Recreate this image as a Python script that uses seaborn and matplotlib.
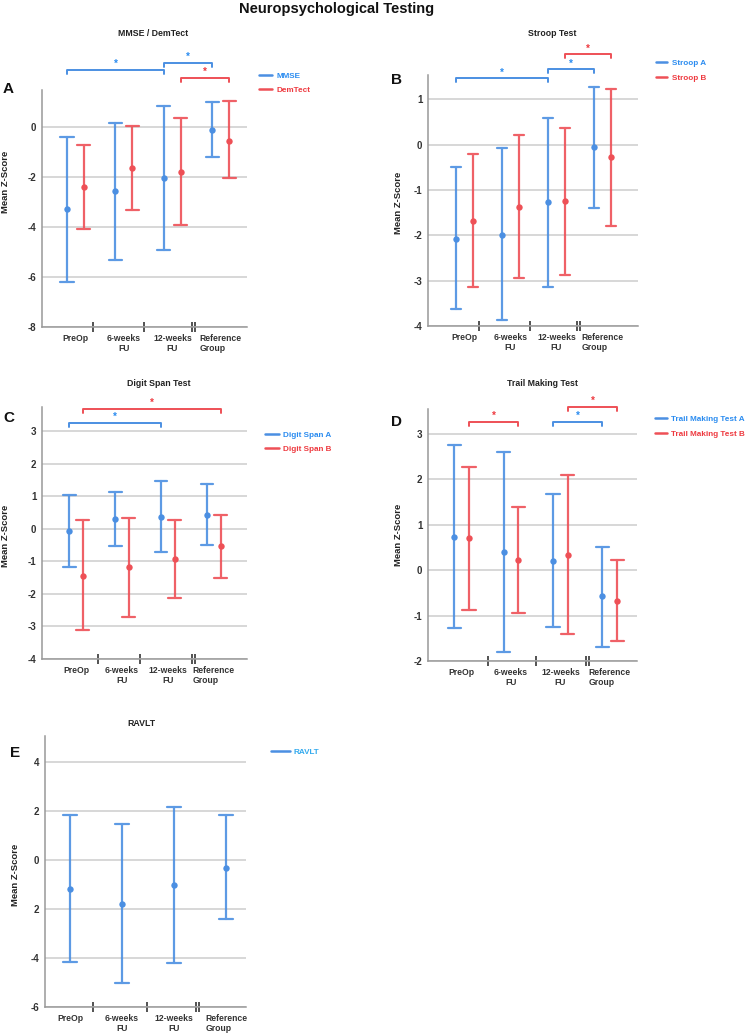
import pandas as pd
import matplotlib.pyplot as plt
from matplotlib.lines import Line2D
import seaborn as sns

W, H = 749, 1035

groups = ["PreOp", "6-weeks\nFU", "12-weeks\nFU", "Reference\nGroup"]

# A: MMSE / DemTect (mean, lower, upper)
mmse_mean = [-3.29, -2.57, -2.04, -0.13]
mmse_lo = [-6.20, -5.31, -4.93, -1.20]
mmse_hi = [-0.40, 0.16, 0.85, 1.00]
demtect_mean = [-2.40, -1.64, -1.79, -0.56]
demtect_lo = [-4.07, -3.31, -3.91, -2.05]
demtect_hi = [-0.73, 0.03, 0.36, 1.03]

# B: Stroop
stroop_a_mean = [-2.08, -1.99, -1.27, -0.04]
stroop_a_lo = [-3.63, -3.87, -3.13, -1.40]
stroop_a_hi = [-0.50, -0.07, 0.60, 1.28]
stroop_b_mean = [-1.68, -1.37, -1.25, -0.28]
stroop_b_lo = [-3.15, -2.93, -2.88, -1.79]
stroop_b_hi = [-0.21, 0.21, 0.38, 1.24]

# C: Digit span
digit_a_mean = [-0.07, 0.32, 0.38, 0.43]
digit_a_lo = [-1.17, -0.52, -0.72, -0.49]
digit_a_hi = [1.03, 1.14, 1.48, 1.39]
digit_b_mean = [-1.44, -1.18, -0.92, -0.51]
digit_b_lo = [-3.10, -2.70, -2.12, -1.51]
digit_b_hi = [0.26, 0.35, 0.28, 0.43]

# D: Trail making
tmt_a_mean = [0.74, 0.40, 0.21, -0.57]
tmt_a_lo = [-1.28, -1.81, -1.26, -1.70]
tmt_a_hi = [2.75, 2.60, 1.68, 0.52]
tmt_b_mean = [0.70, 0.23, 0.34, -0.67]
tmt_b_lo = [-0.88, -0.94, -1.41, -1.55]
tmt_b_hi = [2.28, 1.40, 2.10, 0.22]

# E: RAVLT
ravlt_mean = [-1.17, -1.80, -1.02, -0.31]
ravlt_lo = [-4.15, -5.02, -4.19, -2.41]
ravlt_hi = [1.82, 1.47, 2.16, 1.85]

# significance brackets: (series index, from group, to group, height)
brackets_a = [(0, 0, 2, 2.28), (0, 2, 3, 2.56), (1, 2, 3, 1.96)]
brackets_b = [(0, 0, 2, 1.47), (0, 2, 3, 1.67), (1, 2, 3, 2.00)]
brackets_c = [(0, 0, 2, 3.26), (1, 0, 3, 3.69)]
brackets_d = [(1, 0, 1, 3.27), (0, 2, 3, 3.27), (1, 2, 3, 3.60)]

BLUE = "#4b8fe2"
RED = "#ee5056"
BLUE_TXT = "#2b8cf0"
RED_TXT = "#ee3a40"

sns.set_style("white")
plt.rcParams["font.family"] = ["Liberation Sans", "DejaVu Sans"]
plt.rcParams["font.weight"] = "bold"
plt.rcParams["axes.unicode_minus"] = False


def long_frame(series):
    rows = []
    for name, (mean, lo, hi) in series.items():
        for g, m, l, h in zip(groups, mean, lo, hi):
            for v in (l, m, h):
                rows.append({"group": g, "test": name, "z": v})
    return pd.DataFrame(rows)


def px_axes(fig, l, t, r, b):
    return fig.add_axes([l / W, 1 - b / H, (r - l) / W, (b - t) / H])


def draw_panel(fig, box, series, colors, txt_colors, ylim, yticks, xlim,
               dodge, capsize, seps, brackets, title, title_xy, letter, letter_xy,
               ylab_xy, leg_xy, leg_handlelen, leg_spacing, ytick_labels=None):
    l, t, r, b = box
    ax = px_axes(fig, l, t, r, b)
    df = long_frame(series)
    names = list(series.keys())
    hue_kw = dict(hue="test", hue_order=names, palette=colors, dodge=dodge) if len(names) > 1 else dict(color=colors[0])
    sns.pointplot(data=df, x="group", y="z", order=groups, estimator="median",
                  errorbar=lambda v: (v.min(), v.max()), capsize=capsize,
                  linestyle="none", marker="o", markersize=4.6, markeredgewidth=0,
                  err_kws={"linewidth": 1.6, "alpha": 0.9}, legend=False, ax=ax, **hue_kw)
    ax.set_xlim(*xlim)
    ax.set_ylim(*ylim)
    ax.set_yticks(yticks)
    if ytick_labels is not None:
        ax.set_yticklabels(ytick_labels)
    ax.set_xlabel("")
    ax.set_ylabel("")
    ax.yaxis.grid(True, color="#cdcdcd", linewidth=1.1)
    ax.set_axisbelow(True)
    for s in ["top", "right"]:
        ax.spines[s].set_visible(False)
    for s in ["left", "bottom"]:
        ax.spines[s].set_color("#999999")
        ax.spines[s].set_linewidth(1.1)
    ax.tick_params(axis="y", length=0, pad=4, labelsize=7, labelcolor="#333333")
    ax.tick_params(axis="x", which="major", bottom=True, length=0, pad=5, labelsize=6.2,
                   labelcolor="#333333")
    ax.set_xticks(seps + [seps[-1] + 0.06], minor=True)
    ax.tick_params(axis="x", which="minor", bottom=True, direction="inout", length=7,
                   width=1.3, color="#444444")
    for lab in ax.get_xticklabels():
        lab.set_fontweight("bold")
        if lab.get_text().startswith("Reference"):
            lab.set_multialignment("left")
    for lab in ax.get_yticklabels():
        lab.set_fontweight("bold")

    # brackets with stars
    ppu = (b - t) / (ylim[1] - ylim[0])
    tip = 4 / ppu
    n = len(names)
    for si, g1, g2, yb in brackets:
        off = -dodge / 2 + si * dodge / (n - 1)
        x1, x2 = g1 + off, g2 + off
        ax.plot([x1, x1, x2, x2], [yb - tip, yb, yb, yb - tip], color=colors[si],
                linewidth=1.4, clip_on=False)
        ax.annotate("*", ((x1 + x2) / 2, yb), xytext=(0, 0.5), textcoords="offset points",
                    ha="center", va="bottom", fontsize=7, fontweight="bold",
                    color=txt_colors[si], annotation_clip=False)

    fig.text(title_xy[0] / W, 1 - title_xy[1] / H, title, ha="center", va="center",
             fontsize=6.3, fontweight="bold", color="#222222")
    fig.text(letter_xy[0] / W, 1 - letter_xy[1] / H, letter, ha="center", va="center",
             fontsize=11, fontweight="bold", color="#111111")
    fig.text(ylab_xy[0] / W, 1 - ylab_xy[1] / H, "Mean Z-Score", rotation=90, ha="center",
             va="center", fontsize=6.8, fontweight="bold", color="#222222")

    handles = [Line2D([0], [0], color=c, linewidth=1.8) for c in colors]
    ax.legend(handles, names, loc="upper left", bbox_to_anchor=(leg_xy[0] / W, 1 - leg_xy[1] / H),
              bbox_transform=fig.transFigure, frameon=False, borderaxespad=0, borderpad=0,
              handlelength=leg_handlelen, handletextpad=0.5, labelspacing=leg_spacing,
              labelcolor=txt_colors, prop={"size": 5.9, "weight": "bold"})
    return ax


fig = plt.figure(figsize=(W / 100, H / 100), dpi=100)
fig.text(337 / W, 1 - 9 / H, "Neuropsychological Testing", ha="center", va="center",
         fontsize=10.5, fontweight="bold", color="#111111")

draw_panel(fig, (42, 90, 247, 327),
           {"MMSE": (mmse_mean, mmse_lo, mmse_hi), "DemTect": (demtect_mean, demtect_lo, demtect_hi)},
           [BLUE, RED], [BLUE_TXT, RED_TXT], (-8, 1.48), [-8, -6, -4, -2, 0], (-0.69, 3.54),
           0.35, 0.27, [0.36, 1.41, 2.40], brackets_a, "MMSE / DemTect", (153, 33),
           "A", (8, 89), (6, 182), (259, 72), 1.6, 0.8)

draw_panel(fig, (428, 75, 638, 326),
           {"Stroop A": (stroop_a_mean, stroop_a_lo, stroop_a_hi),
            "Stroop B": (stroop_b_mean, stroop_b_lo, stroop_b_hi)},
           [BLUE, RED], [BLUE_TXT, RED_TXT], (-4, 1.54), [-4, -3, -2, -1, 0, 1], (-0.79, 3.77),
           0.36, 0.22, [0.32, 1.42, 2.45], brackets_b, "Stroop Test", (552, 33),
           "B", (397, 80), (398, 203), (656, 59), 1.4, 0.95)

draw_panel(fig, (42, 407, 247, 659),
           {"Digit Span A": (digit_a_mean, digit_a_lo, digit_a_hi),
            "Digit Span B": (digit_b_mean, digit_b_lo, digit_b_hi)},
           [BLUE, RED], [BLUE_TXT, RED_TXT], (-4, 3.75), [-4, -3, -2, -1, 0, 1, 2, 3], (-0.74, 3.72),
           0.30, 0.28, [0.48, 1.39, 2.52], brackets_c, "Digit Span Test", (159, 383),
           "C", (9, 418), (6, 536), (265, 431), 1.7, 0.8)

draw_panel(fig, (428, 409, 637, 661),
           {"Trail Making Test A": (tmt_a_mean, tmt_a_lo, tmt_a_hi),
            "Trail Making Test B": (tmt_b_mean, tmt_b_lo, tmt_b_hi)},
           [BLUE, RED], [BLUE_TXT, RED_TXT], (-2, 3.55), [-2, -1, 0, 1, 2, 3], (-0.68, 3.55),
           0.30, 0.27, [0.54, 1.50, 2.52], brackets_d, "Trail Making Test", (542, 383),
           "D", (397, 422), (398, 535), (655, 415), 1.5, 0.95)

draw_panel(fig, (45, 736, 246, 1007),
           {"RAVLT": (ravlt_mean, ravlt_lo, ravlt_hi)},
           [BLUE], ["#33aaee"], (-6, 5.06), [-6, -4, -2, 0, 2, 4], (-0.48, 3.38),
           0.0, 0.27, [0.44, 1.48, 2.42], [], "RAVLT", (141, 723),
           "E", (15, 753), (15, 875), (271, 748), 2.3, 0.8,
           ytick_labels=["-6", "-4", "2", "0", "2", "4"])

fig.savefig("out.png", dpi=100)
